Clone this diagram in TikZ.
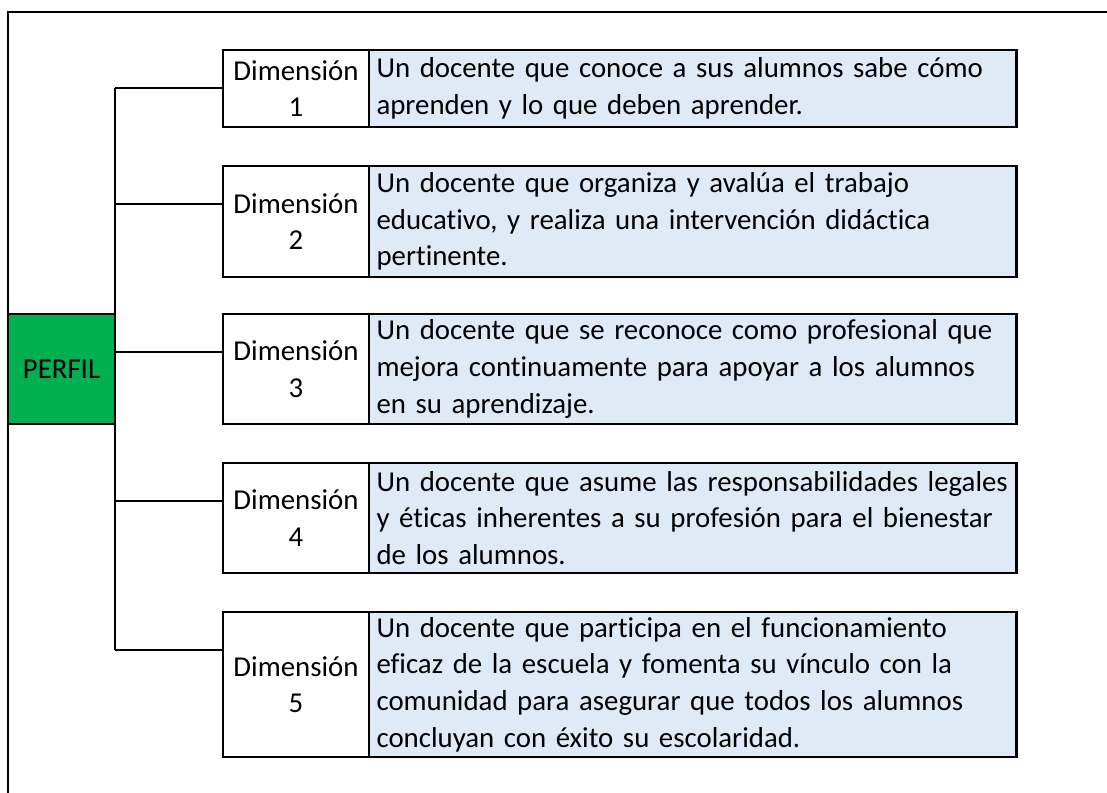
\documentclass[tikz,border=0pt]{standalone}
\usepackage{fontspec}
\setmainfont{Carlito}[Ligatures=NoCommon]
\usetikzlibrary{positioning}
\definecolor{perfilgreen}{HTML}{00B050}
\definecolor{desclight}{HTML}{DEEBF7}

\begin{document}
\begin{tikzpicture}[
    x=0.025cm, y=-0.025cm,
    every node/.style={font=\fontsize{20.5}{26}\selectfont, outer sep=0pt},
    dimbox/.style={rectangle, draw, line width=2pt, fill=white, minimum width=3.65cm, align=center, anchor=north west},
    descbox/.style={rectangle, draw, line width=2pt, fill=desclight, minimum width=16.175cm, text width=15.8cm, inner xsep=0.1875cm, inner ysep=0pt, align=left},
    rootbox/.style={rectangle, draw, line width=2pt, fill=perfilgreen, minimum width=2.675cm, minimum height=2.75cm, anchor=north west},
    link/.style={line width=1.4pt},
    frame/.style={line width=2pt}
]
\useasboundingbox (0,0) rectangle (1107,792);

% Outer frame
\draw[frame] (8,820) |- (1130,12);

% Root
\node[rootbox] (perfil) at (8,314) {PERFIL};

% Dimension boxes
\node[dimbox, minimum height=1.925cm] (dim1) at (223,50) {Dimensión\\1};
\node[dimbox, minimum height=2.775cm] (dim2) at (223,166) {Dimensión\\2};
\node[dimbox, minimum height=2.75cm] (dim3) at (223,314) {Dimensión\\3};
\node[dimbox, minimum height=2.75cm] (dim4) at (223,463) {Dimensión\\4};
\node[dimbox, minimum height=3.625cm] (dim5) at (223,612) {Dimensión\\5};

% Descriptions
\node[descbox, minimum height=1.925cm, right=0pt of dim1] (desc1) {Un docente que conoce a sus alumnos sabe cómo\\aprenden y lo que deben aprender.};
\node[descbox, minimum height=2.775cm, right=0pt of dim2] (desc2) {Un docente que organiza y avalúa el trabajo\\educativo, y realiza una intervención didáctica\\pertinente.};
\node[descbox, minimum height=2.75cm, right=0pt of dim3] (desc3) {Un docente que se reconoce como profesional que\\mejora continuamente para apoyar a los alumnos\\en su aprendizaje.};
\node[descbox, minimum height=2.75cm, right=0pt of dim4] (desc4) {Un docente que asume las responsabilidades legales\\y éticas inherentes a su profesión para el bienestar\\de los alumnos.};
\node[descbox, minimum height=3.625cm, right=0pt of dim5] (desc5) {Un docente que participa en el funcionamiento\\eficaz de la escuela y fomenta su vínculo con la\\comunidad para asegurar que todos los alumnos\\concluyan con éxito su escolaridad.};

% Branch points on the dimension boxes
\coordinate (dim1b) at ([yshift=-0.95cm]dim1.north west);
\coordinate (dim2b) at ([yshift=-0.95cm]dim2.north west);
\coordinate (dim3b) at ([yshift=-0.95cm]dim3.north west);
\coordinate (dim4b) at ([yshift=-0.95cm]dim4.north west);
\coordinate (dim5b) at ([yshift=-0.95cm]dim5.north west);

% Tree lines
\draw[link] (perfil.east |- dim1b) -- (perfil.east |- dim5b);
\draw[link] (perfil.east |- dim1b) -- (dim1b);
\draw[link] (perfil.east |- dim2b) -- (dim2b);
\draw[link] (perfil.east |- dim3b) -- (dim3b);
\draw[link] (perfil.east |- dim4b) -- (dim4b);
\draw[link] (perfil.east |- dim5b) -- (dim5b);

\end{tikzpicture}
\end{document}
